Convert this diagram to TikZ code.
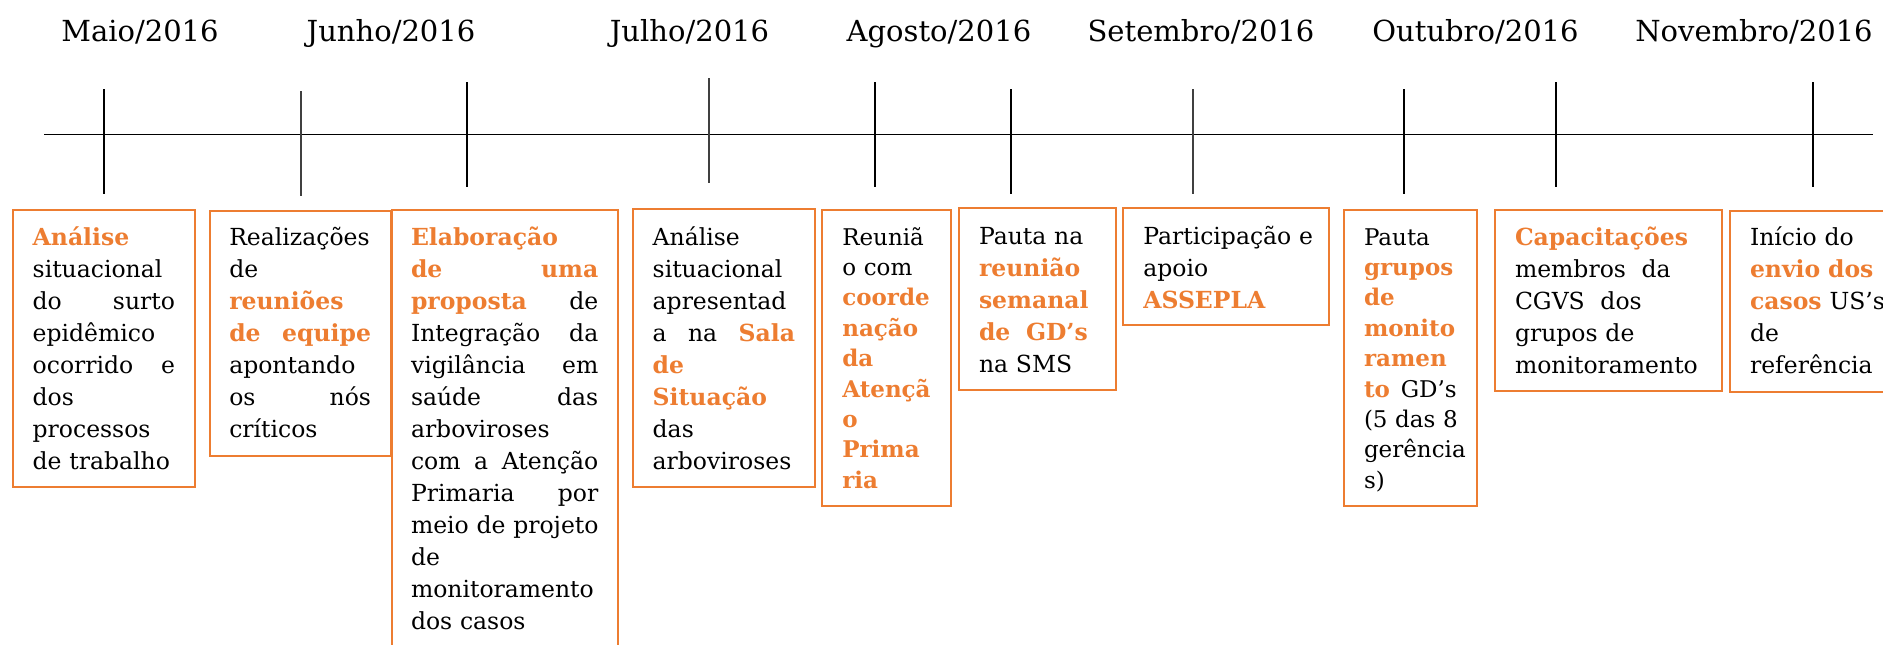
\documentclass[tikz,border=0pt]{standalone}
\usepackage{fontspec}
\setmainfont{DejaVu Serif}
\usepackage{xcolor}
\definecolor{orng}{HTML}{ED7D31}
\definecolor{tickgray}{HTML}{404040}
\newcommand{\hl}[1]{\leavevmode{\bfseries\color{orng}#1}}
\newcommand{\jl}[1]{\leavevmode\hbox to \hsize{\spaceskip=.33em plus 1fil\relax\xspaceskip=\spaceskip #1}}
\begin{document}
\begin{tikzpicture}[x=1pt,y=-1pt,
  tl/.style={line width=1.3pt, black},
  tk/.style={line width=1.3pt, black},
  tkg/.style={line width=1.6pt, tickgray},
  box/.style={draw=orng, line width=2pt, inner sep=0pt, outer sep=0pt, anchor=north west},
  txt/.style={anchor=base west, inner sep=0pt, outer sep=0pt, align=left, font=\fontsize{23.5}{32}\selectfont},
  txtn/.style={txt, font=\fontsize{23}{30.4}\selectfont},
  lab/.style={anchor=base, inner sep=0pt, font=\fontsize{29}{34}\selectfont}]
\useasboundingbox (0,0) rectangle (1883,645);

% timeline
\coordinate (L) at (44,134.7);
\coordinate (R) at (1873,134.7);
\draw[tl] (L) -- (R);
\draw[tk]  (104,89) -- (104,194);
\draw[tkg] (301,91) -- (301,196);
\draw[tk]  (467,82) -- (467,187);
\draw[tkg] (709,78) -- (709,183);
\draw[tk]  (875,82) -- (875,187);
\draw[tk]  (1011,89) -- (1011,194);
\draw[tkg] (1193,89) -- (1193,194);
\draw[tk]  (1404,89) -- (1404,194);
\draw[tk]  (1556,82) -- (1556,187);
\draw[tk]  (1813,82) -- (1813,187);

% month labels
\node[lab] (m1) at (140,41) {Maio/2016};
\node[lab] (m2) at (391,41) {Junho/2016};
\node[lab] (m3) at (689.5,41) {Julho/2016};
\node[lab] (m4) at (939,41) {Agosto/2016};
\node[lab] (m5) at (1201,41) {Setembro/2016};
\node[lab] (m6) at (1475.5,41) {Outubro/2016};
\node[lab] (m7) at (1754,41) {Novembro/2016};

% boxes
\node[box, minimum width=181.7pt, minimum height=277pt] (b1) at (13.3,210) {};
\node[box, minimum width=180.7pt, minimum height=245.3pt] (b2) at (210,210.7) {};
\node[box, minimum width=226.6pt, minimum height=450pt] (b3) at (391.7,210) {};
\node[box, minimum width=181.7pt, minimum height=277.4pt] (b4) at (633.3,209.3) {};
\node[box, minimum width=129.3pt, minimum height=296pt] (b5) at (821.7,210) {};
\node[box, minimum width=157pt, minimum height=181.7pt] (b6) at (959,208.3) {};
\node[box, minimum width=205.7pt, minimum height=116.7pt] (b8) at (1123.3,208.3) {};
\node[box, minimum width=133.3pt, minimum height=296pt] (b7) at (1344,210) {};
\node[box, minimum width=227.3pt, minimum height=181pt] (b9) at (1495,210) {};
\node[box, minimum width=170pt, minimum height=181pt] (b10) at (1730,210.7) {};

% texts
\node[txt, text width=142.3pt] (t1) at (32.7,245.7) {\hl{Análise}\\ situacional\\ \jl{do surto}\\ epidêmico\\ \jl{ocorrido e}\\ dos\\ processos\\ de trabalho};

\node[txt, text width=141.7pt] (t2) at (229.3,245.7) {Realizações\\ de\\ \hl{reuniões}\\ \jl{\hl{de equipe}}\\ apontando\\ \jl{os nós}\\ críticos};

\node[txt, text width=187.3pt] (t3) at (411,245) {\hl{Elaboração}\\ \jl{\hl{de uma}}\\ \jl{\hl{proposta} de}\\ \jl{Integração da}\\ \jl{vigilância em}\\ \jl{saúde das}\\ arboviroses\\ \jl{com a Atenção}\\ \jl{Primaria por}\\ \jl{meio de projeto}\\ de\\ monitoramento\\ dos casos};

\node[txt, text width=142.3pt] (t4) at (652.7,245) {Análise\\ situacional\\ apresentad\\ \jl{a na \hl{Sala}}\\ \hl{de}\\ \hl{Situação}\\ das\\ arboviroses};

\node[txtn, text width=100pt] (t5) at (842.3,245) {Reuniã\\ o com\\ \hl{coorde}\\ \hl{nação}\\ \hl{da}\\ \hl{Atençã}\\ \hl{o}\\ \hl{Prima}\\ \hl{ria}};

\node[txt, text width=125pt] (t6) at (979,244.3) {Pauta na\\ \hl{reunião}\\ \hl{semanal}\\ \hl{de\ \ GD’s}\\ na SMS};

\node[txtn, text width=92.7pt] (t7) at (1364,245) {Pauta\\ \hl{grupos}\\ \hl{de}\\ \hl{monito}\\ \hl{ramen}\\ \jl{\hl{to} GD’s}\\ \jl{(5 das 8}\\ gerência\\ s)};

\node[txt, text width=185pt] (t8) at (1143.3,244.3) {Participação e\\ apoio\\ \hl{ASSEPLA}};

\node[txt, text width=190pt] (t9) at (1515,245) {\hl{Capacitações}\\ membros\ \ da\\ CGVS\ \ dos\\ grupos de\\ monitoramento};

\node[txt, text width=150pt] (t10) at (1750,245) {Início do\\ \hl{envio dos}\\ \hl{casos} US’s\\ de\\ referência};
\end{tikzpicture}
\end{document}
